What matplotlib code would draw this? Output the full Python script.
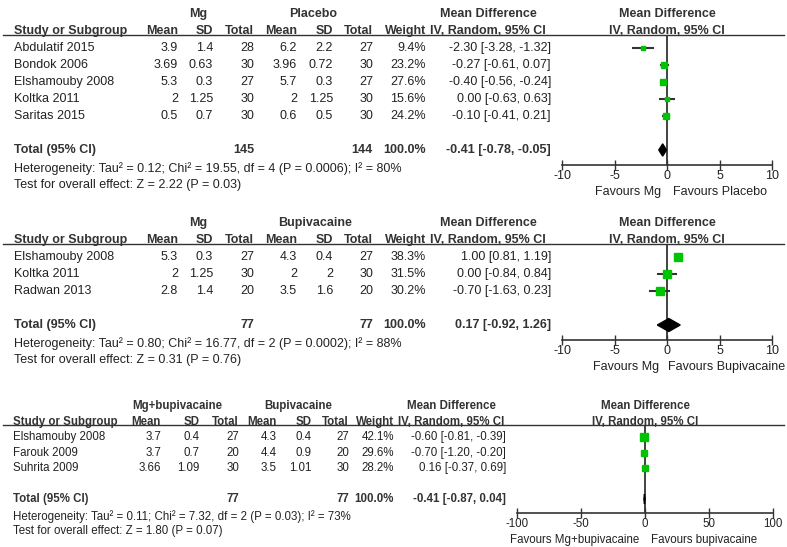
import numpy as np
import matplotlib
matplotlib.use('Agg')
import matplotlib.pyplot as plt

plt.rcParams['font.family'] = ['Liberation Sans', 'DejaVu Sans']

W, H = 787, 547
TXT = '#222222'
LINE = '#333333'
GREEN = '#00c400'

# panel 1 : Mg vs Placebo
p1_groups = ['Mg', 'Placebo']
p1_studies = ['Abdulatif 2015', 'Bondok 2006', 'Elshamouby 2008', 'Koltka 2011', 'Saritas 2015']
p1_mean_a = [3.9, 3.69, 5.3, 2, 0.5]
p1_sd_a = [1.4, 0.63, 0.3, 1.25, 0.7]
p1_n_a = [28, 30, 27, 30, 30]
p1_mean_b = [6.2, 3.96, 5.7, 2, 0.6]
p1_sd_b = [2.2, 0.72, 0.3, 1.25, 0.5]
p1_n_b = [27, 30, 27, 30, 30]
p1_weight = [9.4, 23.2, 27.6, 15.6, 24.2]
p1_md = [-2.30, -0.27, -0.40, 0.00, -0.10]
p1_lo = [-3.28, -0.61, -0.56, -0.63, -0.41]
p1_hi = [-1.32, 0.07, -0.24, 0.63, 0.21]
p1_total = [145, 144, -0.41, -0.78, -0.05]
p1_het = 'Heterogeneity: Tau² = 0.12; Chi² = 19.55, df = 4 (P = 0.0006); I² = 80%'
p1_test = 'Test for overall effect: Z = 2.22 (P = 0.03)'
p1_fav = ['Favours Mg', 'Favours Placebo']
p1_ticks = [-10, -5, 0, 5, 10]

# panel 2 : Mg vs Bupivacaine
p2_groups = ['Mg', 'Bupivacaine']
p2_studies = ['Elshamouby 2008', 'Koltka 2011', 'Radwan 2013']
p2_mean_a = [5.3, 2, 2.8]
p2_sd_a = [0.3, 1.25, 1.4]
p2_n_a = [27, 30, 20]
p2_mean_b = [4.3, 2, 3.5]
p2_sd_b = [0.4, 2, 1.6]
p2_n_b = [27, 30, 20]
p2_weight = [38.3, 31.5, 30.2]
p2_md = [1.00, 0.00, -0.70]
p2_lo = [0.81, -0.84, -1.63]
p2_hi = [1.19, 0.84, 0.23]
p2_total = [77, 77, 0.17, -0.92, 1.26]
p2_het = 'Heterogeneity: Tau² = 0.80; Chi² = 16.77, df = 2 (P = 0.0002); I² = 88%'
p2_test = 'Test for overall effect: Z = 0.31 (P = 0.76)'
p2_fav = ['Favours Mg', 'Favours Bupivacaine']
p2_ticks = [-10, -5, 0, 5, 10]

# panel 3 : Mg+bupivacaine vs Bupivacaine
p3_groups = ['Mg+bupivacaine', 'Bupivacaine']
p3_studies = ['Elshamouby 2008', 'Farouk 2009', 'Suhrita 2009']
p3_mean_a = [3.7, 3.7, 3.66]
p3_sd_a = [0.4, 0.7, 1.09]
p3_n_a = [27, 20, 30]
p3_mean_b = [4.3, 4.4, 3.5]
p3_sd_b = [0.4, 0.9, 1.01]
p3_n_b = [27, 20, 30]
p3_weight = [42.1, 29.6, 28.2]
p3_md = [-0.60, -0.70, 0.16]
p3_lo = [-0.81, -1.20, -0.37]
p3_hi = [-0.39, -0.20, 0.69]
p3_total = [77, 77, -0.41, -0.87, 0.04]
p3_het = 'Heterogeneity: Tau² = 0.11; Chi² = 7.32, df = 2 (P = 0.03); I² = 73%'
p3_test = 'Test for overall effect: Z = 1.80 (P = 0.07)'
p3_fav = ['Favours Mg+bupivacaine', 'Favours bupivacaine']
p3_ticks = [-100, -50, 0, 50, 100]

fig = plt.figure(figsize=(W / 100, H / 100), dpi=100)


def ci_str(m, l, h):
    return f'{m:.2f} [{l:.2f}, {h:.2f}]'


def draw_panel(groups, studies, ma, sa, na, mb, sb, nb, wt, md, lo, hi, tot, het, test,
               fav, ticks, row0, step, study_x, cols, ci_right, ci_mid, grp_x,
               fx0, fx1, fs, msk, dh, fav_gap=(4, 4)):
    n = len(studies)
    dy = -1.2 / step   # small upward nudge of the text baseline
    # text layer, y in row units
    tax = fig.add_axes([0, 0, 1, 1])
    tax.set_xlim(0, W)
    tax.set_ylim((H - row0) / step, -row0 / step)
    tax.axis('off')
    tax.patch.set_alpha(0)
    kw = dict(fontsize=fs, color=TXT, va='center_baseline')
    bkw = dict(kw, fontweight='bold', color='#333333')

    tax.text(grp_x[0], -2 + dy, groups[0], ha='center', **bkw)
    tax.text(grp_x[1], -2 + dy, groups[1], ha='center', **bkw)
    tax.text(study_x, -1 + dy, 'Study or Subgroup', ha='left', **bkw)
    for x, h in zip(cols, ['Mean', 'SD', 'Total', 'Mean', 'SD', 'Total', 'Weight']):
        tax.text(x, -1 + dy, h, ha='right', **bkw)
    tax.text(ci_mid, -2 + dy, 'Mean Difference', ha='center', **bkw)
    tax.text(ci_mid, -1 + dy, 'IV, Random, 95% CI', ha='center', **bkw)
    tax.plot([3, 784], [-0.76, -0.76], color=LINE, lw=1)

    for i in range(n):
        tax.text(study_x, i + dy, studies[i], ha='left', **kw)
        vals = [f'{ma[i]:g}', f'{sa[i]:g}', f'{na[i]}', f'{mb[i]:g}', f'{sb[i]:g}',
                f'{nb[i]}', f'{wt[i]:.1f}%']
        for x, v in zip(cols, vals):
            tax.text(x, i + dy, v, ha='right', **kw)
        tax.text(ci_right, i + dy, ci_str(md[i], lo[i], hi[i]), ha='right', **kw)

    r = n + 1
    tax.text(study_x, r + dy, 'Total (95% CI)', ha='left', **bkw)
    tax.text(cols[2], r + dy, f'{tot[0]}', ha='right', **bkw)
    tax.text(cols[5], r + dy, f'{tot[1]}', ha='right', **bkw)
    tax.text(cols[6], r + dy, '100.0%', ha='right', **bkw)
    tax.text(ci_right, r + dy, ci_str(tot[2], tot[3], tot[4]), ha='right', **bkw)
    tax.text(study_x, r + 1.1 + dy, het, ha='left', **kw)
    tax.text(study_x, r + 2.05 + dy, test, ha='left', **kw)

    # forest plot
    ybot, ytop = n + 1.88, -0.76
    px_top = row0 + ytop * step
    px_bot = row0 + ybot * step
    ax = fig.add_axes([fx0 / W, 1 - px_bot / H, (fx1 - fx0) / W, (px_bot - px_top) / H])
    ax.patch.set_alpha(0)
    ax.set_xlim(ticks[0], ticks[-1])
    ax.set_ylim(ybot, ytop)
    for s in ['top', 'left', 'right']:
        ax.spines[s].set_visible(False)
    ax.spines['bottom'].set_color(LINE)
    ax.spines['bottom'].set_linewidth(1.2)
    ax.set_yticks([])
    ax.set_xticks(ticks)
    ax.set_xticklabels([f'{t}' for t in ticks])
    ax.tick_params(axis='x', direction='inout', length=7, width=1, color=LINE,
                   labelsize=fs, labelcolor=TXT, pad=0)
    ax.text(0, -2 + dy, 'Mean Difference', ha='center', clip_on=False, **bkw)
    ax.text(0, -1 + dy, 'IV, Random, 95% CI', ha='center', clip_on=False, **bkw)
    ax.axvline(0, color=LINE, lw=1.3, zorder=1)
    for i in range(n):
        ax.plot([lo[i], hi[i]], [i, i], color=LINE, lw=1.5, zorder=2, clip_on=False)
        ax.plot(md[i], i, 's', ms=msk * np.sqrt(wt[i]), color=GREEN, mec=GREEN,
                zorder=3, clip_on=False)
    ax.fill([tot[3], tot[2], tot[4], tot[2]], [r, r - dh, r, r + dh],
            color='black', zorder=3)
    ax.annotate(fav[0], xy=(0, 0), xycoords=('data', 'axes fraction'),
                xytext=(-fav_gap[0], -19.5), textcoords='offset points',
                ha='right', va='center', fontsize=fs, color=TXT)
    ax.annotate(fav[1], xy=(0, 0), xycoords=('data', 'axes fraction'),
                xytext=(fav_gap[1], -19.5), textcoords='offset points',
                ha='left', va='center', fontsize=fs, color=TXT)


cols12 = [178, 213, 254, 297, 333, 373, 426]
draw_panel(p1_groups, p1_studies, p1_mean_a, p1_sd_a, p1_n_a, p1_mean_b, p1_sd_b, p1_n_b,
           p1_weight, p1_md, p1_lo, p1_hi, p1_total, p1_het, p1_test, p1_fav, p1_ticks,
           row0=48, step=17, study_x=14, cols=cols12, ci_right=551, ci_mid=488,
           grp_x=[198, 313], fx0=562, fx1=772, fs=9, msk=0.9, dh=0.36)
draw_panel(p2_groups, p2_studies, p2_mean_a, p2_sd_a, p2_n_a, p2_mean_b, p2_sd_b, p2_n_b,
           p2_weight, p2_md, p2_lo, p2_hi, p2_total, p2_het, p2_test, p2_fav, p2_ticks,
           row0=257, step=17, study_x=14, cols=cols12, ci_right=551, ci_mid=488,
           grp_x=[198, 315], fx0=562, fx1=772, fs=9, msk=0.93, dh=0.38,
           fav_gap=(6, 1))
draw_panel(p3_groups, p3_studies, p3_mean_a, p3_sd_a, p3_n_a, p3_mean_b, p3_sd_b, p3_n_b,
           p3_weight, p3_md, p3_lo, p3_hi, p3_total, p3_het, p3_test, p3_fav, p3_ticks,
           row0=437, step=15.5, study_x=13, cols=[161, 200, 239, 277, 312, 349, 394],
           ci_right=506, ci_mid=451, grp_x=[177, 298], fx0=517, fx1=773, fs=8.3,
           msk=0.8, dh=0.32)

fig.savefig('out.png', dpi=100)
